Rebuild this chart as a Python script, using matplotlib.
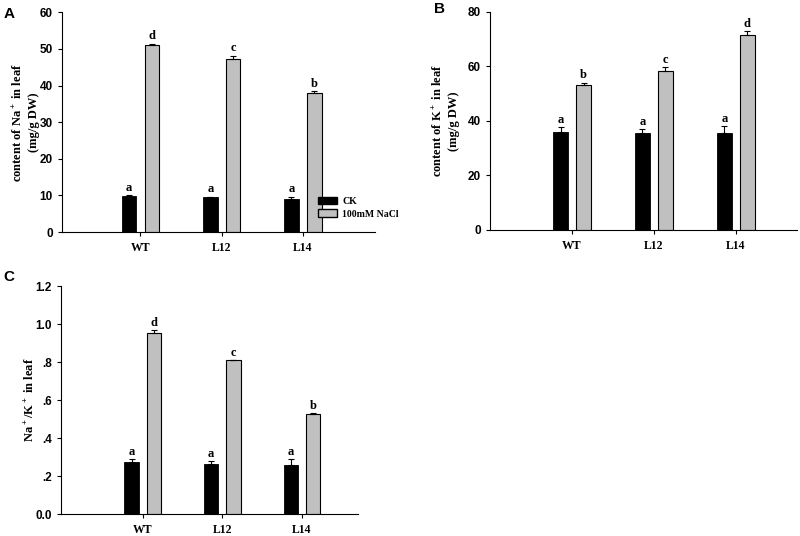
import matplotlib
matplotlib.use("Agg")
import matplotlib.pyplot as plt
import numpy as np
from matplotlib.patches import Patch

groups = ["WT", "L12", "L14"]

na_ck = [9.8, 9.5, 9.1]
na_ck_err = [0.3, 0.2, 0.5]
na_salt = [51.0, 47.2, 37.9]
na_salt_err = [0.4, 1.0, 0.6]
na_ck_sig = ["a", "a", "a"]
na_salt_sig = ["d", "c", "b"]

k_ck = [36.0, 35.5, 35.5]
k_ck_err = [1.8, 1.5, 2.5]
k_salt = [53.2, 58.3, 71.5]
k_salt_err = [0.8, 1.4, 1.5]
k_ck_sig = ["a", "a", "a"]
k_salt_sig = ["b", "c", "d"]

r_ck = [0.275, 0.265, 0.26]
r_ck_err = [0.015, 0.015, 0.03]
r_salt = [0.955, 0.81, 0.528]
r_salt_err = [0.012, 0.003, 0.006]
r_ck_sig = ["a", "a", "a"]
r_salt_sig = ["d", "c", "b"]

serif = "Liberation Serif"
sans = "Liberation Sans"
gray = "#c0c0c0"

plt.rcParams["mathtext.fontset"] = "custom"
plt.rcParams["mathtext.rm"] = "Liberation Serif:bold"
plt.rcParams["mathtext.default"] = "rm"

fig = plt.figure(figsize=(8, 5.36), dpi=100)


def panel(rect, ck, ckerr, salt, salterr, cksig, saltsig, ylim, yticks,
          yticklabels, ylabel, xlim, off):
    ax = fig.add_axes(rect)
    x = np.arange(1, len(groups) + 1)
    w = 0.18
    d = 0.14
    ax.bar(x - d, ck, w, color="black", edgecolor="black", linewidth=0.6)
    ax.bar(x + d, salt, w, color=gray, edgecolor="black", linewidth=0.8)
    ax.errorbar(x - d, ck, yerr=[np.zeros(3), ckerr], fmt="none",
                ecolor="black", elinewidth=0.8, capsize=2.5, capthick=0.8)
    ax.errorbar(x + d, salt, yerr=[np.zeros(3), salterr], fmt="none",
                ecolor="black", elinewidth=0.8, capsize=2.5, capthick=0.8)
    for xi, v, e, s in zip(x - d, ck, ckerr, cksig):
        ax.text(xi, v + e + off, s, ha="center", va="bottom",
                fontfamily=serif, fontweight="bold", fontsize=9)
    for xi, v, e, s in zip(x + d, salt, salterr, saltsig):
        ax.text(xi, v + e + off, s, ha="center", va="bottom",
                fontfamily=serif, fontweight="bold", fontsize=9)
    ax.set_xlim(*xlim)
    ax.set_ylim(*ylim)
    ax.set_xticks(x)
    ax.set_xticklabels(groups, fontfamily=serif, fontweight="bold", fontsize=8.5)
    ax.set_yticks(yticks)
    ax.set_yticklabels(yticklabels, fontfamily=sans, fontweight="bold", fontsize=8.5)
    ax.spines["top"].set_visible(False)
    ax.spines["right"].set_visible(False)
    ax.spines["left"].set_linewidth(0.8)
    ax.spines["bottom"].set_linewidth(0.8)
    ax.tick_params(axis="y", length=3, width=0.8, pad=3.5)
    ax.tick_params(axis="x", length=3, width=0.8, pad=4)
    ax.set_ylabel(ylabel, fontfamily=serif, fontweight="bold", fontsize=9,
                  linespacing=1.3)
    return ax


axA = panel([0.0775, 0.567, 0.391, 0.41], na_ck, na_ck_err, na_salt, na_salt_err,
            na_ck_sig, na_salt_sig, (0, 60), np.arange(0, 61, 10),
            [str(v) for v in range(0, 61, 10)],
            "content of Na$^+$ in leaf\n(mg/g DW)", (0.034, 3.886), 0.4)
axA.yaxis.set_label_coords(-0.07, 0.5)
axA.legend(handles=[Patch(facecolor="black", edgecolor="black", label="CK"),
                    Patch(facecolor=gray, edgecolor="black", label="100mM NaCl")],
           loc="upper left", bbox_to_anchor=(0.818, 0.16), frameon=False,
           prop={"family": serif, "weight": "bold", "size": 7},
           handlelength=2.0, handleheight=0.8, labelspacing=0.35,
           handletextpad=0.5, borderaxespad=0, borderpad=0)

axB = panel([0.6125, 0.571, 0.384, 0.407], k_ck, k_ck_err, k_salt, k_salt_err,
            k_ck_sig, k_salt_sig, (0, 80), np.arange(0, 81, 20),
            [str(v) for v in range(0, 81, 20)],
            "content of K$^+$ in leaf\n(mg/g DW)", (-0.003, 3.75), 0.5)
axB.yaxis.set_label_coords(-0.098, 0.5)

axC = panel([0.076, 0.041, 0.371, 0.425], r_ck, r_ck_err, r_salt, r_salt_err,
            r_ck_sig, r_salt_sig, (0, 1.2), np.arange(0, 1.21, 0.2),
            ["0.0", ".2", ".4", ".6", ".8", "1.0", "1.2"],
            "Na$^+$/K$^+$ in leaf", (-0.03, 3.70), 0.006)
axC.yaxis.set_label_coords(-0.081, 0.5)

for s, (px, py) in zip(["A", "B", "C"], [(0.004, 0.974), (0.543, 0.983), (0.004, 0.483)]):
    fig.text(px, py, s, fontfamily=sans, fontweight="bold", fontsize=11,
             ha="left", va="center")

fig.savefig("out.png", dpi=100)
